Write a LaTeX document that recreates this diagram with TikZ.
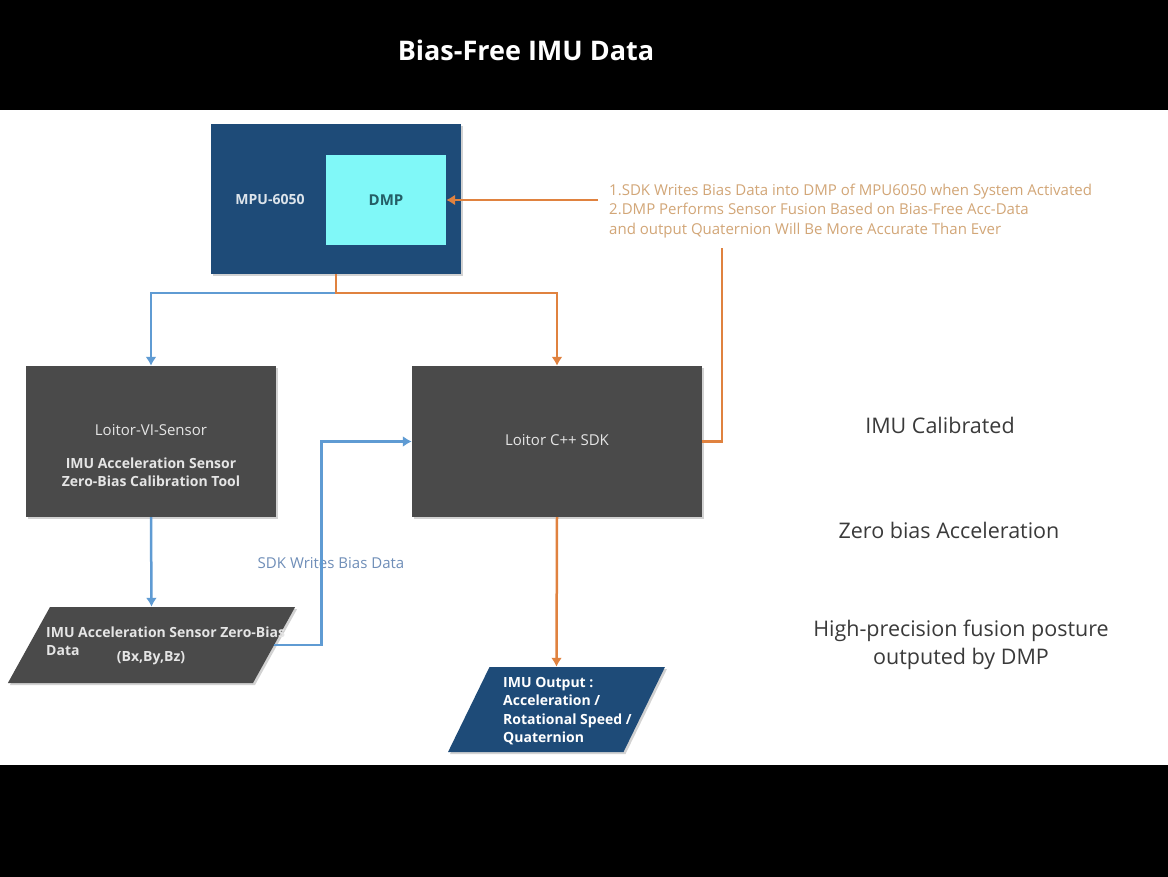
\documentclass[tikz,border=0pt]{standalone}
\usepackage{fontspec}
\setmainfont{Open Sans}
\usetikzlibrary{shapes.geometric,arrows.meta,shadows}

\definecolor{boxgray}{HTML}{4A4A4A}
\definecolor{mpublue}{HTML}{1E4B78}
\definecolor{dmpcyan}{HTML}{80F8F8}
\definecolor{dmptext}{HTML}{245E66}
\definecolor{lineblue}{HTML}{5F9BD3}
\definecolor{lineorange}{HTML}{E0823F}
\definecolor{notetan}{HTML}{D2A677}
\definecolor{labelblue}{HTML}{6F8EB8}
\definecolor{sidegray}{HTML}{3A3A3A}

\begin{document}
\begin{tikzpicture}[
x=1pt, y=-1pt,
grayblock/.style={
  fill=boxgray,
  draw=none,
  inner sep=0pt,
  drop shadow={opacity=0.35, shadow xshift=2pt, shadow yshift=-2pt}
  },
blueblock/.style={
  grayblock,
  fill=mpublue
  },
slanted/.style={
  trapezium,
  minimum width=0pt,
  minimum height=0pt
  },
boxtext/.style={
  text=white!90!black,
  font=\fontsize{15}{18}\selectfont,
  inner sep=0pt
  },
boldtext/.style={
  boxtext,
  font=\fontsize{14}{18.3}\selectfont\bfseries
  },
bluearrow/.style={
  draw=lineblue,
  line width=2.5pt
  },
orangearrow/.style={
  draw=lineorange,
  line width=2.5pt
  },
sidetext/.style={
  text=sidegray,
  font=\fontsize{21.5}{28}\selectfont,
  align=center
  },
>={Latex[length=9pt,width=11pt]}
]
% background and bands
\fill[black] (0,0) rectangle (1168,877);
\fill[white] (0,110) rectangle (1168,765);
\useasboundingbox (0,0) rectangle (1168,877);
\node[text=white, font=\fontsize{27}{32}\selectfont\bfseries] (title) at (526,50) {Bias-Free IMU Data};

% blocks
\node[blueblock, minimum width=250pt, minimum height=150pt] (mpu) at (336,199) {};
\node[boldtext, text=white!85!mpublue] (mpulabel) at (270,199) {MPU-6050};
\node[fill=dmpcyan, inner sep=0pt, minimum width=120pt, minimum height=90pt,
  text=dmptext, font=\fontsize{15}{18}\selectfont\bfseries] (dmp) at (386,200) {DMP};

\node[grayblock, minimum width=250pt, minimum height=151pt] (sensor) at (151,441.5) {};
\node[boxtext] (sensorname) at (151,430) {Loitor-VI-Sensor};
\node[boldtext, align=center] (sensortool) at (151,472) {IMU Acceleration Sensor\\Zero-Bias Calibration Tool};

\node[grayblock, minimum width=290pt, minimum height=151pt] (sdk) at (557,441.5) {};
\node[boxtext] (sdkname) at (557,440) {Loitor C++ SDK};

\node[grayblock, slanted, trapezium left angle=61, trapezium right angle=119,
  inner xsep=101.5pt, inner ysep=38pt] (biasdata) at (151.5,645) {};
\node[boldtext, anchor=west, align=left] (biastext) at (46,641) {IMU Acceleration Sensor Zero-Bias\\Data};
\node[boldtext] (bxyz) at (151,658) {(Bx,By,Bz)};

\node[blueblock, slanted, trapezium left angle=64, trapezium right angle=116,
  inner xsep=67pt, inner ysep=42.5pt] (output) at (556.5,709.5) {};
\node[boldtext, text=white, anchor=west, align=left] (outtext) at (503,711)
  {IMU Output :\\Acceleration /\\Rotational Speed /\\Quaternion};

% notes
\node[text=notetan, font=\fontsize{15}{19.5}\selectfont, align=left,
  anchor=west, inner xsep=11pt, inner ysep=0pt] (note) at (598,211)
  {1.SDK Writes Bias Data into DMP of MPU6050 when System Activated\\
   2.DMP Performs Sensor Fusion Based on Bias-Free Acc-Data\\
   and output Quaternion Will Be More Accurate Than Ever};
\coordinate (tap) at (722,248);
\node[text=labelblue, font=\fontsize{15}{18}\selectfont] (writes) at (331,563) {SDK Writes Bias Data};

\node[sidetext] (calib) at (940,425) {IMU Calibrated};
\node[sidetext] (zerobias) at (949,530) {Zero bias Acceleration};
\node[sidetext] (fusion) at (961,645) {High-precision fusion posture\\outputed by DMP};

% connectors
\draw[bluearrow, ->] (mpu.south) -- ++(0,19) -| (sensor.north);
\draw[orangearrow, ->] (mpu.south) -- ++(0,19) -| (sdk.north);
\draw[orangearrow, ->] (note.west |- dmp.east) -- (dmp.east);
\draw[orangearrow] (sdk.east) -| (tap);
\draw[bluearrow, ->] (sensor.south) -- (biasdata.north);
\draw[bluearrow, ->] (biasdata.east) -- ++(47,0) |- (sdk.west);
\draw[orangearrow, ->] (sdk.south) -- (output.north);

\end{tikzpicture}
\end{document}
